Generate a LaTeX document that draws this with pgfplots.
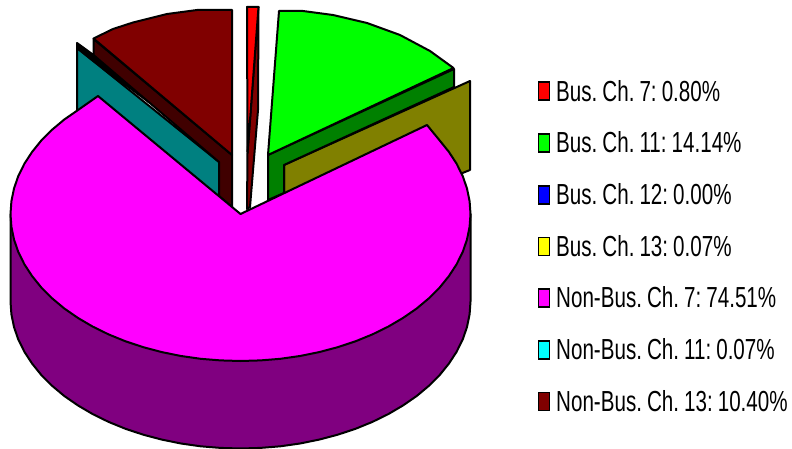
\documentclass[border=0pt]{standalone}
\usepackage{pgfplots}
\usepackage{fontspec}
\setmainfont[WordSpace=0.55]{Liberation Sans}
\pgfplotsset{compat=1.18}
\definecolor{cPurple}{RGB}{128,0,128}
\definecolor{cOlive}{RGB}{128,128,0}
\definecolor{cTeal}{RGB}{0,128,128}
\definecolor{cDeep}{RGB}{64,0,0}
\definecolor{cMaroon}{RGB}{128,0,0}
\definecolor{cDGreen}{RGB}{0,128,0}
\definecolor{cGreen}{RGB}{0,255,0}
\definecolor{cRed}{RGB}{255,0,0}
\definecolor{cMag}{RGB}{255,0,255}
\definecolor{cBlue}{RGB}{0,0,255}
\definecolor{cYellow}{RGB}{255,255,0}
\definecolor{cCyan}{RGB}{0,255,255}
\newcommand{\lt}[1]{\hspace*{6pt}\scalebox{0.71}[1]{\fontsize{29}{29}\selectfont #1}}
\pgfplotsset{
 slice/.style={fill=#1,draw=black,line width=2pt,line join=round,forget plot},
 key/.style={legend image code/.code={\draw[fill=#1,draw=black,line width=1.7pt] (0pt,-9pt) rectangle (11pt,9pt);}}
}
\begin{document}
\begin{tikzpicture}
\useasboundingbox (0,0) rectangle (792pt,449pt);
\begin{axis}[
 scale only axis,width=792pt,height=449pt,
 xmin=0,xmax=792,ymin=0,ymax=449,y dir=reverse,
 hide axis,clip=false,
 legend style={at={(axis cs:537.5,80)},anchor=north west,draw=none,fill=none,inner sep=0pt,outer sep=0pt,
   row sep=29.2pt,
   nodes={inner sep=0pt,outer sep=0pt,anchor=west}},
 legend cell align=left,
]
% side wall of the large slice
\addplot[slice=cPurple] coordinates {
(470.5,214)(470.5,301.5)(469.6,314.3)(467,327)(462.7,339.5)(456.6,351.8)(448.9,363.6)(439.7,375)(428.9,385.8)(416.7,396)(403.1,405.4)(388.3,414.1)(372.4,421.9)(355.5,428.8)(337.7,434.7)(319.2,439.6)(300,443.5)(280.4,446.3)(260.5,447.9)(240.5,448.5)
(220.5,447.9)(200.6,446.3)(181,443.5)(161.8,439.6)(143.3,434.7)(125.5,428.8)(108.6,421.9)(92.7,414.1)(77.9,405.4)(64.3,396)(52.1,385.8)(41.3,375)(32.1,363.6)(24.4,351.8)(18.3,339.5)(14,327)(11.4,314.3)(10.5,301.5)(10.5,214)} --cycle;
% olive wall
\addplot[slice=cOlive] coordinates {(284,165)(470,81)(470,170)(420,190)(284,193)} --cycle;
% teal wall
\addplot[slice=cTeal] coordinates {(77,48)(219,162)(219,200)(77,112)} --cycle;
% thin slice top
\addplot[slice=black] coordinates {(77,43)(93.5,55)(150,103)(93.5,61)(77,48)} --cycle;
% maroon wall and top
\addplot[slice=cDeep] coordinates {(93.5,39)(232,155)(232,207)(219,196)(219,162)(93.5,55)} --cycle;
\addplot[slice=cMaroon] coordinates {(232,10)(197,10)(167,14)(133,22.5)(113,29)(93.5,38.5)(232,155)} --cycle;
% dark green wall and bright top
\addplot[slice=cDGreen] coordinates {(268,155)(454,69)(454,87)(284,165)(284,193)(268,200)} --cycle;
\addplot[slice=cGreen] coordinates {(279,11)(303,11)(333,15)(367,23)(400,35)(430,51)(453.5,68)(268,155)} --cycle;
% red wall and top
\addplot[slice=cMaroon] coordinates {(258.5,7)(258,110)(250,207)(247,209)(247.5,153)} --cycle;
\addplot[slice=cRed] coordinates {(247,7)(258.5,7)(247.5,153)} --cycle;
% large slice top
\addplot[slice=cMag] coordinates {
(240.5,214)(427,125)(439.7,140.5)(448.9,151.9)(456.6,163.7)(462.7,176)(467,188.5)(469.6,201.2)(470.5,214)(469.6,226.8)(467,239.5)(462.7,252)(456.6,264.3)(448.9,276.1)(439.7,287.5)(428.9,298.3)(416.7,308.5)(403.1,317.9)(388.3,326.6)(372.4,334.4)(355.5,341.3)(337.7,347.2)(319.2,352.1)(300,356)(280.4,358.8)(260.5,360.4)(240.5,361)
(220.5,360.4)(200.6,358.8)(181,356)(161.8,352.1)(143.3,347.2)(125.5,341.3)(108.6,334.4)(92.7,326.6)(77.9,317.9)(64.3,308.5)(52.1,298.3)(41.3,287.5)(32.1,276.1)(24.4,264.3)(18.3,252)(14,239.5)(11.4,226.8)(10.5,214)(11.4,201.2)(14,188.5)(18.3,176)(24.4,163.7)(32.1,151.9)(41.3,140.5)(52.1,129.7)(64.3,119.5)(77.9,110.1)(98,96)} --cycle;
% legend
\addlegendimage{key=cRed}\addlegendentry{\lt{Bus. Ch. 7: 0.80\%}}
\addlegendimage{key=cGreen}\addlegendentry{\lt{Bus. Ch. 11: 14.14\%}}
\addlegendimage{key=cBlue}\addlegendentry{\lt{Bus. Ch. 12: 0.00\%}}
\addlegendimage{key=cYellow}\addlegendentry{\lt{Bus. Ch. 13: 0.07\%}}
\addlegendimage{key=cMag}\addlegendentry{\lt{Non-Bus. Ch. 7: 74.51\%}}
\addlegendimage{key=cCyan}\addlegendentry{\lt{Non-Bus. Ch. 11: 0.07\%}}
\addlegendimage{key=cMaroon}\addlegendentry{\lt{Non-Bus. Ch. 13: 10.40\%}}
\end{axis}
\end{tikzpicture}
\end{document}
